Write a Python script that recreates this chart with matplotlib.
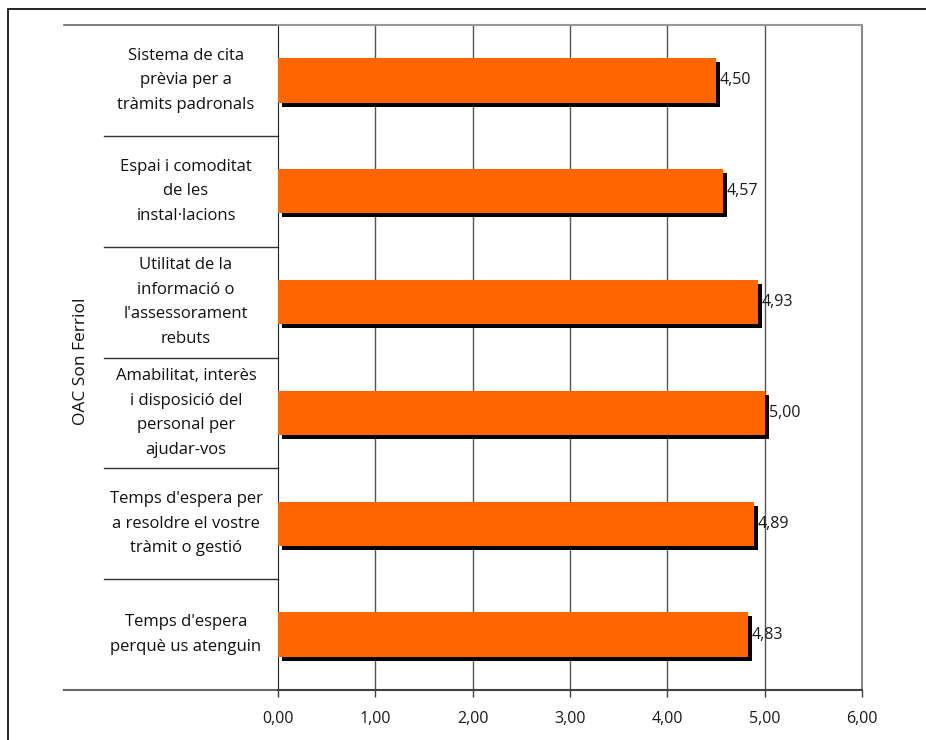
import matplotlib.pyplot as plt
from matplotlib.lines import Line2D
from matplotlib.patches import Rectangle
from matplotlib.transforms import blended_transform_factory, ScaledTranslation

plt.rcParams['font.family'] = ['Open Sans', 'DejaVu Sans']

# Valoració per aspecte del servei (de dalt a baix)
categories = [
    "Sistema de cita\nprèvia per a\ntràmits padronals",
    "Espai i comoditat\nde les\ninstal·lacions",
    "Utilitat de la\ninformació o\nl'assessorament\nrebuts",
    "Amabilitat, interès\ni disposició del\npersonal per\najudar-vos",
    "Temps d'espera per\na resoldre el vostre\ntràmit o gestió",
    "Temps d'espera\nperquè us atenguin",
]
values = [4.50, 4.57, 4.93, 5.00, 4.89, 4.83]
xticks = [0, 1, 2, 3, 4, 5, 6]
group_label = "OAC Son Ferriol"

fig = plt.figure(figsize=(9.26, 7.4), dpi=100)
ax = fig.add_axes([278 / 926, 1 - 690 / 740, 584 / 926, 665 / 740])

# marc exterior
fig.patches.append(Rectangle((8 / 926, -0.1), 1.2, 1 - 9 / 740 + 0.1,
                             transform=fig.transFigure, fill=False,
                             edgecolor='black', linewidth=1.2))

n = len(categories)
ypos = list(range(n))[::-1]
bar_h = 0.40

# ombra negra desplaçada i barra taronja
shadow = ScaledTranslation(4 / 100, -4 / 100, fig.dpi_scale_trans)
ax.barh(ypos, values, height=bar_h, color='black', zorder=2,
        transform=ax.transData + shadow)
ax.barh(ypos, values, height=bar_h, color='#FF6600', zorder=3)

for y, v in zip(ypos, values):
    ax.text(v + 0.04, y, f"{v:.2f}".replace('.', ','), va='center', ha='left',
            fontsize=11.5, color='#1a1a1a', zorder=4)

ax.set_xlim(0, 6)
ax.set_ylim(-0.5, n - 0.5)
ax.set_xticks(xticks)
ax.set_xticklabels([f"{t:.2f}".replace('.', ',') for t in xticks], fontsize=11.5,
                   color='#1a1a1a')
ax.set_yticks([])
ax.tick_params(axis='x', direction='out', length=5, width=1, color='#404040', pad=10)

for t in xticks[1:-1]:
    ax.axvline(t, color='#555555', linewidth=1, zorder=1)

ax.spines['left'].set_color('#222222')
ax.spines['bottom'].set_color('#404040')
ax.spines['bottom'].set_linewidth(1.5)
ax.spines['top'].set_color('#999999')
ax.spines['right'].set_color('#888888')
ax.spines['top'].set_linewidth(1.5)
ax.spines['right'].set_linewidth(1.5)

# etiquetes de categoria i separadors a l'esquerra
tr = blended_transform_factory(ax.transAxes, ax.transData)
x_sep = (104 - 278) / 584
x_edge = (64 - 278) / 584
for y, label in zip(ypos, categories):
    ax.text((186 - 278) / 584, y, label, transform=tr, ha='center', va='center',
            fontsize=12, linespacing=1.7, color='#111111')
for k in range(1, n):
    ax.add_artist(Line2D([x_sep, 0], [k - 0.5, k - 0.5], transform=tr,
                         color='#333333', linewidth=1, clip_on=False))
ax.add_artist(Line2D([x_edge, 0], [n - 0.5, n - 0.5], transform=tr,
                     color='#666666', linewidth=1.2, clip_on=False))
ax.add_artist(Line2D([x_edge, 0], [-0.5, -0.5], transform=tr,
                     color='#666666', linewidth=1.5, clip_on=False))

ax.text((81 - 278) / 584, (690 - 361) / 665, group_label, transform=ax.transAxes,
        rotation=90, ha='center', va='center', fontsize=12.5, color='#111111')

fig.savefig("out.png", dpi=100)
